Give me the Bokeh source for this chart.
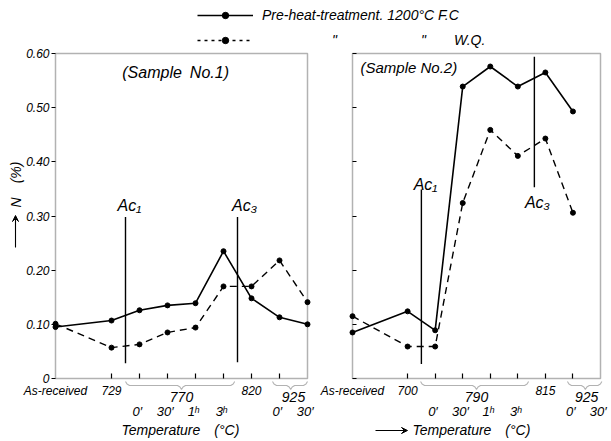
import math
from bokeh.plotting import figure
from bokeh.models import (Label, PolyAnnotation, BoxAnnotation, FixedTicker, Legend, LegendItem,
                          Range1d, Arrow, VeeHead)
from bokeh.layouts import column, row
from bokeh.embed import file_html
from bokeh.resources import INLINE

FONT = "Liberation Sans"
SP = "\u2002"

# ---------------- data ----------------
pos1 = [0, 2, 3, 4, 5, 6, 7, 8, 9]
fc1 = [0.095, 0.107, 0.126, 0.135, 0.139, 0.235, 0.148, 0.113, 0.100]
wq1 = [0.101, 0.057, 0.063, 0.085, 0.094, 0.170, 0.170, 0.218, 0.141]

pos2 = [0, 2, 3, 4, 5, 6, 7, 8]
fc2 = [0.085, 0.124, 0.089, 0.539, 0.576, 0.539, 0.565, 0.493]
wq2 = [0.115, 0.059, 0.059, 0.324, 0.459, 0.411, 0.443, 0.306]

ac_text = ["Ac\u2081", "Ac\u2083"]
ac1_x = [2.5, 6.5]
ac1_lo = [0.028, 0.030]
ac1_hi = [0.298, 0.298]
ac1_lab = [(2.64, 0.319), (6.75, 0.319)]
ac2_x = [2.5, 6.6]
ac2_lo = [0.027, 0.353]
ac2_hi = [0.349, 0.594]
ac2_lab = [(2.65, 0.358), (6.71, 0.325)]

y_ticks = [0, 0.1, 0.2, 0.3, 0.4, 0.5, 0.6]
y_tick_labels = ["0", "0.10", "0.20", "0.30", "0.40", "0.50", "0.60"]
x_ticks = [2, 3, 4, 5, 6, 7, 8]

row1_x = [0, 2, 7]
row1_s1 = ["As-received", "729", "820"]
row1_s2 = ["As-received", "700", "815"]
group_x = [4.5, 8.5]
group_s1 = ["770", "925"]
group_s2 = ["790", "925"]
brace_s1 = [(2.5, 6.4, 4.5), (7.75, 9.0, 8.4)]
brace_s2 = [(2.47, 6.39, 4.5), (7.8, 9.05, 8.45)]
sub_x = [3, 4, 5, 6, 8, 9]
sub_labels = ["0\u2032", "30\u2032", "1\u02b0", "3\u02b0", "0\u2032", "30\u2032"]

legend_labels = ["Pre-heat-treatment. 1200\u00b0C F.C",
                 SP * 10 + '"' + SP * 12 + '"' + SP * 4 + "W.Q."]
y_title = "N" + SP * 2 + "(%)"
x_title = "Temperature" + SP * 2 + "(\u00b0C)"

# ---------------- layout constants (pixels) ----------------
FRAME_H = 325            # height of the 0..0.6 box
K = 0.6 / FRAME_H        # data units per pixel (y)
LEG_H = 48
TOP_PAD = 5              # px between panel canvas top and 0.60
BOT_PAD = 63             # px between 0 and canvas bottom
PANEL_H = FRAME_H + TOP_PAD + BOT_PAD


def below(px):
    return -px * K


def make_panel(width, left_px, box_w):
    ppu = box_w / 9.0
    p = figure(width=width, height=PANEL_H, title=None,
               x_range=Range1d(-left_px / ppu, (width - left_px) / ppu),
               y_range=Range1d(-BOT_PAD * K, 0.6 + TOP_PAD * K),
               toolbar_location=None, output_backend="svg",
               min_border_left=0, min_border_right=0, min_border_top=0, min_border_bottom=0)
    p.outline_line_color = None
    p.grid.visible = False
    p.background_fill_color = "white"
    p.border_fill_color = "white"
    p.add_layout(BoxAnnotation(left=0, right=9, bottom=0, top=0.6, fill_alpha=0,
                               line_color="black", line_width=1.5))
    xa = p.xaxis[0]
    xa.fixed_location = 0
    xa.bounds = (0, 9)
    xa.ticker = FixedTicker(ticks=x_ticks)
    xa.major_label_overrides = {t: "" for t in x_ticks}
    xa.major_tick_in = 5
    xa.major_tick_out = 0
    xa.minor_tick_line_color = None
    xa.axis_line_color = None
    xa.major_tick_line_color = "black"
    xa.major_tick_line_width = 1.2
    ya = p.yaxis[0]
    ya.fixed_location = 0
    ya.bounds = (0, 0.6)
    ya.ticker = FixedTicker(ticks=y_ticks)
    ya.axis_line_color = None
    ya.major_tick_line_color = "black"
    ya.major_tick_line_width = 1.2
    ya.minor_tick_line_color = None
    return p, ppu


def lab(p, x, y, text, size="12px", align="center", angle=0.0):
    p.add_layout(Label(x=x, y=y, text=text, text_font=FONT, text_font_style="italic",
                       text_font_size=size, text_align=align, text_baseline="middle",
                       text_color="black", angle=angle))


def brace(p, x0, x1, xc, ppu):
    hx = 1.0 / ppu
    top, mid, tip = below(3), below(7), below(11)
    pts = [(x0, top), (x0 + 1.5 * hx, mid + 1.5 * K), (x0 + 4 * hx, mid),
           (xc - 4 * hx, mid), (xc - 1.5 * hx, mid - 1.5 * K), (xc, tip),
           (xc + 1.5 * hx, mid - 1.5 * K), (xc + 4 * hx, mid),
           (x1 - 4 * hx, mid), (x1 - 1.5 * hx, mid + 1.5 * K), (x1, top)]
    path = pts + list(reversed(pts[1:-1]))
    p.add_layout(PolyAnnotation(xs=[q[0] for q in path], ys=[q[1] for q in path],
                                fill_alpha=0, line_color="black", line_width=1.1))


def draw_series(p, xs, fc, wq):
    p.line(xs, fc, line_color="black", line_width=1.6)
    p.scatter(xs, fc, size=5, color="black")
    p.line(xs, wq, line_color="black", line_width=1.4, line_dash="7 5")
    p.scatter(xs, wq, size=5, color="black")


def bottom_labels(p, row1_text, group_text, braces, ppu):
    for x, t in zip(row1_x, row1_text):
        lab(p, x, below(12), t, "12px")
    for x, t in zip(group_x, group_text):
        lab(p, x, below(18), t, "14px")
    for x, t in zip(sub_x, sub_labels):
        lab(p, x - 0.08, below(33), t, "13px")
    for x0, x1, xc in braces:
        brace(p, x0, x1, xc, ppu)


def arrow(p, x0, y0, x1, y1):
    p.add_layout(Arrow(end=VeeHead(size=6, line_color="black", fill_color="black", line_width=1),
                       x_start=x0, y_start=y0, x_end=x1, y_end=y1,
                       line_color="black", line_width=1.1))


# ---------------- legend strip ----------------
lf = figure(width=611, height=LEG_H, title=None, toolbar_location=None, output_backend="svg",
            x_range=Range1d(100, 101), y_range=Range1d(100, 101),
            x_axis_location=None, y_axis_location=None,
            min_border_left=190, min_border_right=0, min_border_top=0, min_border_bottom=0)
lf.grid.visible = False
lf.outline_line_color = None
r_fc = lf.line(pos1, fc1, line_color="black", line_width=1.6)
m_fc = lf.scatter(pos1, fc1, size=5, color="black")
r_wq = lf.line(pos1, wq1, line_color="black", line_width=1.4, line_dash="3 4")
m_wq = lf.scatter(pos1, wq1, size=5, color="black")
legend = Legend(items=[LegendItem(label=legend_labels[0], renderers=[r_fc, m_fc]),
                       LegendItem(label=legend_labels[1], renderers=[r_wq, m_wq])],
                location="top_left", orientation="vertical", margin=7, padding=0,
                spacing=9, glyph_width=56, glyph_height=16, label_height=16,
                label_standoff=9, label_text_font=FONT, label_text_font_style="italic",
                label_text_font_size="14px", label_text_color="black",
                background_fill_alpha=0, border_line_alpha=0)
lf.add_layout(legend)

# ---------------- sample No.1 ----------------
W1 = 316
p1, ppu1 = make_panel(W1, 55, 252)
ya1 = p1.yaxis[0]
ya1.major_label_overrides = dict(zip(y_ticks, y_tick_labels))
ya1.major_label_text_font = FONT
ya1.major_label_text_font_style = "italic"
ya1.major_label_text_font_size = "12px"
ya1.major_label_text_color = "black"
ya1.major_label_standoff = 2
ya1.major_tick_out = 4
ya1.major_tick_in = 0
draw_series(p1, pos1, fc1, wq1)
p1.segment(x0=ac1_x, y0=ac1_lo, x1=ac1_x, y1=ac1_hi, line_color="black", line_width=1.4)
for (x, y), t in zip(ac1_lab, ac_text):
    lab(p1, x, y, t, "16px")
lab(p1, 4.29, 0.565, "(Sample" + SP + "No.1)", "16px")
bottom_labels(p1, row1_s1, group_s1, brace_s1, ppu1)
lab(p1, 4.46, below(51), x_title, "14px")
# y title: arrow + rotated text
yx = -40 / ppu1
arrow(p1, yx, (378 - 247) * K, yx, (378 - 215) * K)
lab(p1, yx, (378 - 184) * K, y_title, "14px", angle=math.pi / 2)

# ---------------- sample No.2 ----------------
p2, ppu2 = make_panel(611 - W1, 352 - W1, 248)
ya2 = p2.yaxis[0]
ya2.major_label_overrides = {t: "" for t in y_ticks}
ya2.major_tick_out = 0
ya2.major_tick_in = 4
draw_series(p2, pos2, fc2, wq2)
p2.segment(x0=ac2_x, y0=ac2_lo, x1=ac2_x, y1=ac2_hi, line_color="black", line_width=1.4)
for (x, y), t in zip(ac2_lab, ac_text):
    lab(p2, x, y, t, "16px")
lab(p2, 0.29, 0.574, "(Sample No.2)", "15px", align="left")
bottom_labels(p2, row1_s2, group_s2, brace_s2, ppu2)
arrow(p2, 23 / ppu2, below(52), 55 / ppu2, below(52))
lab(p2, 60 / ppu2, below(51), x_title, "14px", align="left")

layout = column(lf, row(p1, p2))
open("out.html", "w").write(file_html(layout, INLINE))
